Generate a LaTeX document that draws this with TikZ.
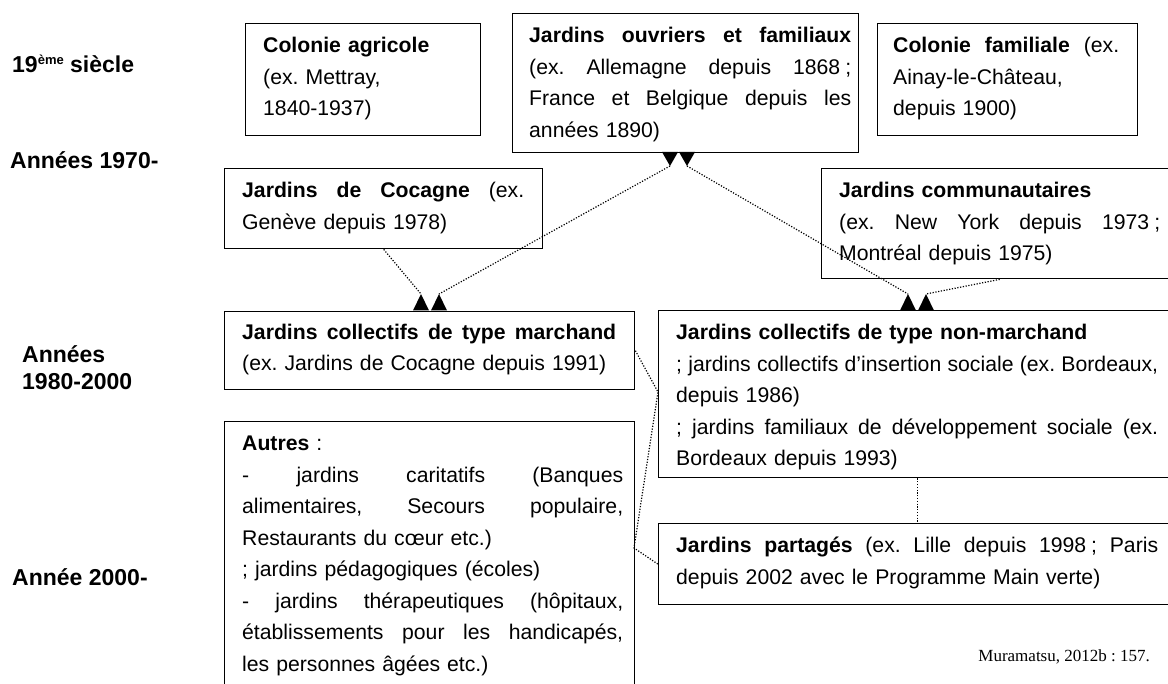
\documentclass[tikz,border=0pt]{standalone}
\usepackage{fontspec}
\setmainfont{Liberation Sans}
\newfontfamily\citefont{Liberation Serif}
\usetikzlibrary{calc}
\frenchspacing
\newcommand\jl[2]{\leavevmode\hbox to #1{#2}}
\begin{document}
\begin{tikzpicture}[x=1pt,y=-1pt,
  box/.style={draw=black, line width=1.4pt, rectangle, inner sep=0pt, anchor=north west},
  txt/.style={anchor=north west, inner sep=0pt, align=left, font=\fontsize{21.2}{31.5}\selectfont},
  lab/.style={anchor=west, inner sep=0pt, align=left, font=\fontsize{23}{27}\selectfont\bfseries},
  conn/.style={line width=1.2pt, dash pattern=on 1.2pt off 1.6pt},
  tipfill/.style={fill=black}
]
\useasboundingbox (0,0) rectangle (1168,684);
\clip (0,0) rectangle (1168,684);

% boxes
\node[box, minimum width=235pt, minimum height=112pt] (ca) at (245,23) {};
\node[box, minimum width=346pt, minimum height=139pt] (ouv) at (512,13) {};
\node[box, minimum width=260pt, minimum height=112pt] (cf) at (877,23) {};
\node[box, minimum width=318pt, minimum height=80pt] (coc) at (224,168) {};
\node[box, minimum width=356pt, minimum height=110pt] (com) at (821,168) {};
\node[box, minimum width=410pt, minimum height=78pt] (mar) at (224,311) {};
\node[box, minimum width=518pt, minimum height=167pt] (nm) at (658,310) {};
\node[box, minimum width=410pt, minimum height=300pt] (aut) at (224,421) {};
\node[box, minimum width=518pt, minimum height=81pt] (par) at (658,523) {};

% texts
\node[txt, text width=200pt] (tca) at (263,30.5) {\strut\textbf{Colonie agricole}\\(ex. Mettray,\\1840-1937)};
\node[txt, text width=322pt] (touv) at (529,20.5) {\strut\jl{322pt}{\textbf{Jardins\hfill ouvriers\hfill et\hfill familiaux}}\\\jl{322pt}{(ex.\hfill Allemagne\hfill depuis\hfill 1868\hspace{5pt};}\\\jl{322pt}{France\hfill et\hfill Belgique\hfill depuis\hfill les}\\années 1890)};
\node[txt, text width=226pt] (tcf) at (893,30.5) {\strut\jl{226pt}{\textbf{Colonie\hfill familiale}\hfill (ex.}\\Ainay-le-Château,\\depuis 1900)};
\node[txt, text width=282pt] (tcoc) at (242,175.5) {\strut\jl{282pt}{\textbf{Jardins\hfill de\hfill Cocagne}\hfill (ex.}\\Genève depuis 1978)};
\node[txt, text width=321pt] (tcom) at (839,175.5) {\strut\textbf{Jardins communautaires}\\\jl{321pt}{(ex.\hfill New\hfill York\hfill depuis\hfill 1973\hspace{5pt};}\\Montréal depuis 1975)};
\node[txt, text width=374pt] (tmar) at (242,317) {\strut\jl{374pt}{\textbf{Jardins\hfill collectifs\hfill de\hfill type\hfill marchand}}\\(ex. Jardins de Cocagne depuis 1991)};
\node[txt, text width=482pt] (tnm) at (676,317.5) {\strut\textbf{Jardins collectifs de type non-marchand}\\\jl{482pt}{;\hfill jardins\hfill collectifs\hfill d’insertion\hfill sociale\hfill (ex.\hfill Bordeaux,}\\depuis 1986)\\\jl{482pt}{;\hfill jardins\hfill familiaux\hfill de\hfill développement\hfill sociale\hfill (ex.}\\Bordeaux depuis 1993)};
\node[txt, text width=381pt] (taut) at (242,428.5) {\strut\textbf{Autres} :\\\jl{381pt}{-\hfill jardins\hfill caritatifs\hfill (Banques}\\\jl{381pt}{alimentaires,\hfill Secours\hfill populaire,}\\Restaurants du cœur etc.)\\; jardins pédagogiques (écoles)\\\jl{381pt}{-\hfill jardins\hfill thérapeutiques\hfill (hôpitaux,}\\\jl{381pt}{établissements\hfill pour\hfill les\hfill handicapés,}\\les personnes âgées etc.)};
\node[txt, text width=482pt] (tpar) at (676,530.5) {\strut\jl{482pt}{\textbf{Jardins\hfill partagés}\hfill (ex.\hfill Lille\hfill depuis\hfill 1998\hspace{5pt};\hfill Paris}\\depuis 2002 avec le Programme Main verte)};

% period labels
\node[lab] (l19) at (12,64) {19\raisebox{8pt}{\fontsize{13}{13}\selectfont ème} siècle};
\node[lab] (l70) at (10,160) {Années 1970-};
\node[lab] (l80) at (22,368) {Années\\1980-2000};
\node[lab] (l00) at (12,577) {Année 2000-};

% citation
\node[anchor=base east, inner sep=0pt, font=\citefont\fontsize{17}{20}\selectfont] (cite) at (1150,661) {Muramatsu, 2012b : 157.};

% arrow triangles
\coordinate (oL) at (670,166);
\coordinate (oR) at (687,166);
\coordinate (mL) at (421,294);
\coordinate (mR) at (439,294);
\coordinate (nL) at (908,294);
\coordinate (nR) at (926,294);
\fill[tipfill] ($(oL)+(-8,-14)$) -- ($(oL)+(8,-14)$) -- (oL) -- cycle;
\fill[tipfill] ($(oR)+(-8,-14)$) -- ($(oR)+(8,-14)$) -- (oR) -- cycle;
\foreach \c in {mL,mR,nL,nR} {
  \fill[tipfill] ($(\c)+(-8,16.5)$) -- ($(\c)+(8,16.5)$) -- (\c) -- cycle;
}

% connectors
\draw[conn] (coc.south) -- (mL);
\draw[conn] (oL) -- (mR);
\draw[conn] (oR) -- (nL);
\draw[conn] (com.south) -- (nR);
\coordinate (nmw) at (658,392);
\coordinate (aute) at (634,548);
\draw[conn] (mar.east) -- (nmw) -- (aute) -- (par.west);
\draw[conn] (nm.south) -- (par.north);
\end{tikzpicture}
\end{document}
